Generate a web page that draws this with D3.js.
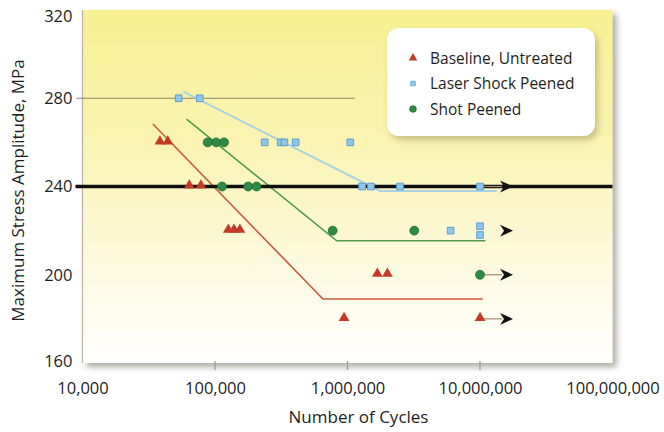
<!DOCTYPE html>
<html>
<head>
<meta charset="utf-8">
<script src="https://cdn.jsdelivr.net/npm/d3@7"></script>
<style>
  html, body { margin: 0; padding: 0; background: #fff; }
  svg text { font-family: "Open Sans", "Lato", sans-serif; fill: #1e1e1e; }
</style>
</head>
<body>
<svg id="chart" width="664" height="432"></svg>
<script>
// S-N fatigue data: cycles to failure vs. maximum stress amplitude (MPa)
const baselineCycles = [38400, 44000, 64000, 78300, 126000, 139000, 154000, 1680000, 2000000, 942000, 10000000];
const baselineStress = [260, 260, 240, 240, 220, 220, 220, 200, 200, 180, 180];

const laserCycles = [53200, 76700, 237000, 313000, 334000, 406000, 1050000, 1290000, 1500000, 2490000, 10000000, 6000000, 10000000, 10000000];
const laserStress = [280, 280, 260, 260, 260, 260, 260, 240, 240, 240, 240, 220, 222, 218];

const shotCycles = [88000, 102000, 117000, 113000, 178000, 206000, 773000, 3190000, 10000000];
const shotStress = [260, 260, 260, 240, 240, 240, 220, 220, 200];

// Run-outs (tests stopped without failure)
const runoutCycles = [10000000, 10000000, 10000000, 10000000];
const runoutStress = [240, 220, 200, 180];
const runoutHasStem = [true, false, true, true];

// Trend lines: sloped segment then endurance plateau
const baselineFit = [[34000, 268.3], [653000, 189], [10500000, 189]];
const shotFit = [[61000, 270.5], [828000, 215.4], [11000000, 215.4]];
const laserFit = [[57700, 283], [1760000, 238], [13400000, 238]];

// Reference stress levels
const refThinStress = 280, refThinEnd = 1140000;
const refThickStress = 240;

const xTickValues = [1e4, 1e5, 1e6, 1e7, 1e8];
const yTickValues = [160, 200, 240, 280, 320];
const legendLabels = ["Baseline, Untreated", "Laser Shock Peened", "Shot Peened"];

const svg = d3.select("#chart");
const plot = { left: 82.5, right: 612.5, top: 10, bottom: 363 };

const x = d3.scaleLog().domain([1e4, 1e8]).range([plot.left, plot.right]);
const y = d3.scaleLinear().domain([160, 320]).range([plot.bottom, plot.top]);

const defs = svg.append("defs");
const bg = defs.append("linearGradient").attr("id", "bg")
  .attr("x1", 0).attr("y1", 0).attr("x2", 0).attr("y2", 1);
bg.append("stop").attr("offset", "0%").attr("stop-color", "#f8f092");
bg.append("stop").attr("offset", "35%").attr("stop-color", "#faf3b0");
bg.append("stop").attr("offset", "70%").attr("stop-color", "#fdf9dc");
bg.append("stop").attr("offset", "100%").attr("stop-color", "#ffffff");

const shadow = defs.append("filter").attr("id", "shadow")
  .attr("x", "-5%").attr("y", "-5%").attr("width", "115%").attr("height", "115%");
shadow.append("feDropShadow").attr("dx", 4).attr("dy", 4).attr("stdDeviation", 3)
  .attr("flood-color", "#6b6558").attr("flood-opacity", 0.55);

const legShadow = defs.append("filter").attr("id", "legShadow")
  .attr("x", "-10%").attr("y", "-10%").attr("width", "125%").attr("height", "130%");
legShadow.append("feDropShadow").attr("dx", 3).attr("dy", 4).attr("stdDeviation", 3)
  .attr("flood-color", "#8a8050").attr("flood-opacity", 0.45);

// Plot background panel
svg.append("rect")
  .attr("x", plot.left).attr("y", plot.top)
  .attr("width", plot.right - plot.left).attr("height", plot.bottom - plot.top)
  .attr("fill", "url(#bg)").attr("filter", "url(#shadow)");

// Left axis line
svg.append("line")
  .attr("x1", plot.left).attr("x2", plot.left)
  .attr("y1", plot.top).attr("y2", plot.bottom)
  .attr("stroke", "#b8b4a8").attr("stroke-width", 1.2);

// Bottom tick marks
svg.append("g").selectAll("line")
  .data(xTickValues.filter(v => v > 1e4 && v < 1e8))
  .join("line")
  .attr("x1", d => x(d)).attr("x2", d => x(d))
  .attr("y1", plot.bottom - 2).attr("y2", plot.bottom + 7)
  .attr("stroke", "#9d9a90").attr("stroke-width", 1.2);

// Axis labels via d3 axes (domain and tick lines hidden)
const fmt = d3.format(",");
const xAxis = svg.append("g")
  .attr("transform", `translate(0,${plot.bottom})`)
  .call(d3.axisBottom(x).tickValues(xTickValues).tickFormat(fmt).tickSize(0).tickPadding(19));
xAxis.select(".domain").remove();
xAxis.selectAll("text").attr("font-size", 16.5).attr("font-family", "'Open Sans', sans-serif").attr("fill", "#1e1e1e");

const yAxis = svg.append("g")
  .attr("transform", `translate(${plot.left},0)`)
  .call(d3.axisLeft(y).tickValues(yTickValues).tickSize(0).tickPadding(10));
yAxis.select(".domain").remove();
yAxis.selectAll("text").attr("font-size", 16.5).attr("font-family", "'Open Sans', sans-serif").attr("fill", "#1e1e1e");
// keep the top label inside the frame
yAxis.selectAll(".tick").filter(d => d === 320).select("text").attr("y", 6);
yAxis.selectAll(".tick").filter(d => d === 160).select("text").attr("y", -2);

svg.append("text")
  .attr("x", (plot.left + plot.right) / 2 + 11).attr("y", 423)
  .attr("text-anchor", "middle").attr("font-size", 17)
  .text("Number of Cycles");

svg.append("text")
  .attr("transform", `translate(24,${(plot.top + plot.bottom) / 2 + 4}) rotate(-90)`)
  .attr("text-anchor", "middle").attr("font-size", 17)
  .text("Maximum Stress Amplitude, MPa");

// Reference lines
svg.append("line")
  .attr("x1", plot.left - 6).attr("x2", x(refThinEnd))
  .attr("y1", y(refThinStress)).attr("y2", y(refThinStress))
  .attr("stroke", "#8a8468").attr("stroke-width", 1);

// Trend lines
const line = d3.line().x(d => x(d[0])).y(d => y(d[1]));
svg.append("path").datum(laserFit).attr("d", line)
  .attr("fill", "none").attr("stroke", "#a9d3e3").attr("stroke-width", 2);
svg.append("path").datum(shotFit).attr("d", line)
  .attr("fill", "none").attr("stroke", "#4f9a4c").attr("stroke-width", 1.6);
svg.append("path").datum(baselineFit).attr("d", line)
  .attr("fill", "none").attr("stroke", "#c9583c").attr("stroke-width", 1.6);

svg.append("line")
  .attr("x1", plot.left - 7).attr("x2", plot.right)
  .attr("y1", y(refThickStress)).attr("y2", y(refThickStress))
  .attr("stroke", "#111").attr("stroke-width", 3.5);

// Run-out arrows
const runouts = runoutCycles.map((c, i) => ({ c, s: runoutStress[i], stem: runoutHasStem[i] }));
const ro = svg.append("g");
ro.selectAll("line").data(runouts.filter(d => d.stem)).join("line")
  .attr("x1", d => x(d.c) + 3).attr("x2", d => x(d.c) + 22)
  .attr("y1", d => y(d.s)).attr("y2", d => y(d.s))
  .attr("stroke", "#a08a70").attr("stroke-width", 1.2);
ro.selectAll("path").data(runouts).join("path")
  .attr("d", d => {
    const tx = x(d.c) + 33, ty = y(d.s);
    return `M${tx},${ty} L${tx - 13},${ty - 6} L${tx - 9},${ty} L${tx - 13},${ty + 6} Z`;
  })
  .attr("fill", "#111");

// Markers
const tri = d3.symbol().type(d3.symbolTriangle).size(50);
const sq = d3.symbol().type(d3.symbolSquare).size(44);
const circ = d3.symbol().type(d3.symbolCircle).size(62);

const laserPts = laserCycles.map((c, i) => [c, laserStress[i]]);
const shotPts = shotCycles.map((c, i) => [c, shotStress[i]]);
const basePts = baselineCycles.map((c, i) => [c, baselineStress[i]]);

svg.append("g").selectAll("path").data(laserPts).join("path")
  .attr("transform", d => `translate(${x(d[0])},${y(d[1])})`)
  .attr("d", sq).attr("fill", "#8fc7ea").attr("stroke", "#5d9fcf").attr("stroke-width", 1);

svg.append("g").selectAll("path").data(shotPts).join("path")
  .attr("transform", d => `translate(${x(d[0])},${y(d[1])})`)
  .attr("d", circ).attr("fill", "#2f8a45").attr("stroke", "#1f6a32").attr("stroke-width", 0.8);

svg.append("g").selectAll("path").data(basePts).join("path")
  .attr("transform", d => `translate(${x(d[0])},${y(d[1]) - 1})`)
  .attr("d", tri).attr("fill", "#c33a26");

// Legend
const leg = svg.append("g");
leg.append("rect")
  .attr("x", 387).attr("y", 28).attr("width", 208).attr("height", 108)
  .attr("rx", 12).attr("fill", "#ffffff").attr("filter", "url(#legShadow)");
const legMarks = [tri, sq, circ];
const legFill = ["#c33a26", "#8fc7ea", "#2f8a45"];
const legStroke = ["none", "#5d9fcf", "#1f6a32"];
const legScale = [0.8, 0.7, 0.75];
legendLabels.forEach((lab, i) => {
  const cy = 58 + i * 25.5;
  leg.append("path")
    .attr("transform", `translate(413,${cy}) scale(${legScale[i]})`)
    .attr("d", legMarks[i]).attr("fill", legFill[i]).attr("stroke", legStroke[i]);
  leg.append("text").attr("x", 430).attr("y", cy + 5.5)
    .attr("font-size", 15.5).text(lab);
});
</script>
</body>
</html>
